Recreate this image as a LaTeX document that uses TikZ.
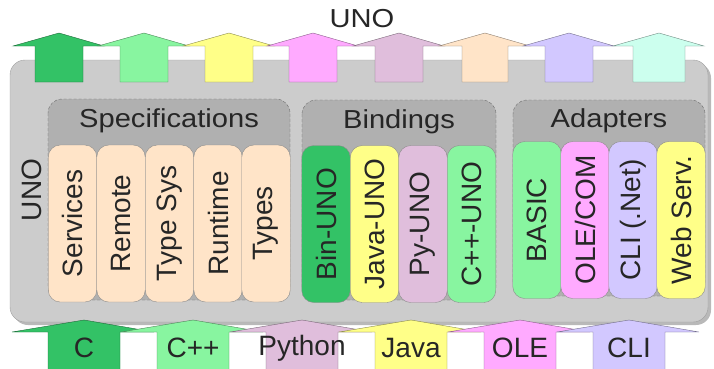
\documentclass[tikz,border=0pt]{standalone}
\usepackage{fontspec}
\setmainfont{Liberation Sans}
\definecolor{unogreen}{HTML}{33C266}
\definecolor{unolight}{HTML}{88F5A0}
\definecolor{unoyellow}{HTML}{FFFF88}
\definecolor{unopink}{HTML}{FFAAFF}
\definecolor{unolilac}{HTML}{E0BEDC}
\definecolor{unopeach}{HTML}{FFE4C8}
\definecolor{unolav}{HTML}{D2C8FF}
\definecolor{unomint}{HTML}{CCFFEE}
\begin{document}
\begin{tikzpicture}[x=1pt,y=-1pt]
\tikzstyle{frame}=[draw=gray!75, fill=gray!40, rounded corners=15pt]
\tikzstyle{group}=[draw=gray!85!black, densely dashed, fill=gray!62, rounded corners=14pt]
\tikzstyle{header}=[font=\fontsize{26}{30}\selectfont, xscale=1.12, transform shape, text=black!85]
\tikzstyle{pill}=[draw=black!45, rounded corners=12pt, rotate=90, minimum width=157pt, minimum height=48.5pt, inner sep=0pt, font=\fontsize{28}{32}\selectfont, text=black!85]
\tikzstyle{arrowlabel}=[font=\fontsize{28}{32}\selectfont, text=black!85, inner sep=0pt]

\useasboundingbox (0,0) rectangle (714,368);
\clip (0,0) rectangle (714,368);

% Outer frame
\fill[gray!55, rounded corners=15pt] (13,63) rectangle (711,325);
\path[frame] (10,60) rectangle (708,322);

% Top arrows
\foreach \cx/\hw/\col in {59/24/unogreen, 144/24/unolight, 229/24/unoyellow, 313/24/unopink,
    399/24/unolilac, 485/23/unopeach, 569/24/unolav, 659/26/unomint} {
  \draw[draw=\col!55!black, fill=\col] (\cx-46,46) -- (\cx,33) -- (\cx+45,46) -- (\cx+\hw,46)
    -- (\cx+\hw,82) -- (\cx-\hw,82) -- (\cx-\hw,46) -- cycle;
}
\node[header] (unotop) at (362,19) {UNO};
\node[arrowlabel, rotate=90] (unoleft) at (32,190) {UNO};

% Groups
\path[group] (48,99) rectangle (290,300);
\path[group] (302,100) rectangle (496,300);
\path[group] (513,100) rectangle (705,296);
\node[header] (specs) at (169,121) {Specifications};
\node[header] (bindings) at (399,122) {Bindings};
\node[header] (adapters) at (609,121) {Adapters};

% Specification pills
\node[pill, fill=unopeach] (services) at (72.5,223.5) {Services};
\node[pill, fill=unopeach] (remote) at (121,223.5) {Remote};
\node[pill, fill=unopeach] (typesys) at (169.5,223.5) {Type Sys};
\node[pill, fill=unopeach] (runtime) at (218,223.5) {Runtime};
\node[pill, fill=unopeach] (types) at (266,223.5) {Types};

% Binding pills
\node[pill, fill=unogreen] (binuno) at (326,224) {Bin-UNO};
\node[pill, fill=unoyellow] (javauno) at (374.5,224) {Java-UNO};
\node[pill, fill=unolilac] (pyuno) at (423,224) {Py-UNO};
\node[pill, fill=unolight] (cppuno) at (471.5,224) {C++-UNO};

% Adapter pills
\node[pill, fill=unolight] (basic) at (537,220) {BASIC};
\node[pill, fill=unopink] (olecom) at (585,220) {OLE/COM};
\node[pill, fill=unolav] (clinet) at (633,220) {CLI (.Net)};
\node[pill, fill=unoyellow] (websrv) at (681,220) {Web Serv.};

% Bottom arrows
\foreach \cx/\col/\txt/\nm in {84/unogreen/C/langc, 193/unolight/C++/langcpp, 302/unolilac/Python/langpy,
    411/unoyellow/Java/langjava, 520/unopink/OLE/langole, 629/unolav/CLI/langcli} {
  \draw[draw=\col!55!black, fill=\col] (\cx-72,332) -- (\cx,320) -- (\cx+70,332) -- (\cx+36,332)
    -- (\cx+36,372) -- (\cx-36,372) -- (\cx-36,332) -- cycle;
  \node[arrowlabel] (\nm) at (\cx,348) {\txt};
}
\end{tikzpicture}
\end{document}
